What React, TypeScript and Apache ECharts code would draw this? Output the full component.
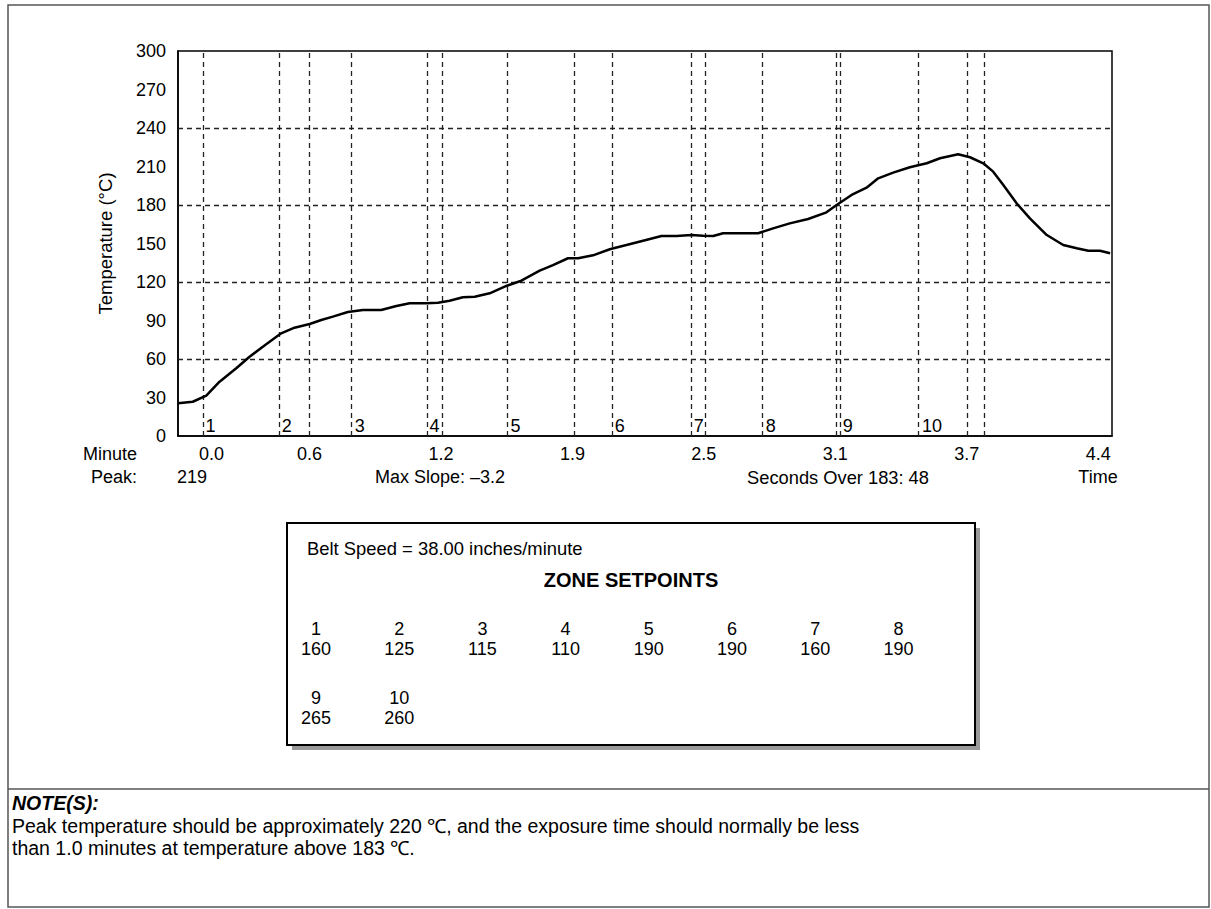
import React, { useEffect, useRef } from 'react';
import * as echarts from 'echarts';

// ---- data ----
const timeMin = [
  0.000, 0.070, 0.134, 0.197, 0.276, 0.339, 0.418, 0.489, 0.552, 0.624,
  0.679, 0.734, 0.805, 0.876, 0.963, 1.035, 1.098, 1.177, 1.232, 1.287,
  1.350, 1.406, 1.477, 1.556, 1.627, 1.714, 1.777, 1.848, 1.896, 1.967,
  2.046, 2.125, 2.204, 2.291, 2.362, 2.433, 2.488, 2.536, 2.583, 2.662,
  2.749, 2.820, 2.899, 2.986, 3.073, 3.121, 3.192, 3.263, 3.318, 3.389,
  3.468, 3.548, 3.611, 3.697, 3.753, 3.816, 3.863, 3.911, 3.974, 4.037,
  4.117, 4.195, 4.259, 4.314, 4.369, 4.417,
];
const tempC = [
  25.5, 26.7, 31.4, 42.3, 52.8, 61.8, 71.5, 80.0, 84.4, 87.3,
  90.4, 93.0, 96.6, 98.2, 98.2, 101.3, 103.4, 103.4, 103.9, 105.4,
  108.1, 108.5, 111.2, 116.9, 121.0, 128.8, 133.2, 138.5, 138.5, 140.8,
  145.5, 148.8, 152.2, 155.8, 155.8, 156.6, 156.1, 155.8, 158.0, 158.0,
  158.0, 161.8, 165.7, 169.1, 174.3, 180.0, 187.8, 193.5, 200.8, 205.2,
  209.4, 212.5, 216.4, 219.5, 217.2, 212.5, 206.0, 195.6, 181.3, 169.6,
  156.6, 148.8, 146.3, 144.4, 144.4, 142.4,
];

const xTickValues = [0, 0.623, 1.246, 1.869, 2.492, 3.115, 3.738, 4.361];
const xTickLabels = ['0.0', '0.6', '1.2', '1.9', '2.5', '3.1', '3.7', '4.4'];
const xMax = 4.426;
const yMin = 0;
const yMax = 300;
const yStep = 30;
const hGridTemps = [60, 120, 180, 240];

const zoneNames = ['1', '2', '3', '4', '5', '6', '7', '8', '9', '10'];
const zoneStartMin = [0.116, 0.477, 0.823, 1.178, 1.562, 2.055, 2.430, 2.771, 3.136, 3.511];
const markerMin = [0.624, 1.249, 1.880, 2.501, 3.122, 3.739, 3.820];
const zoneLabelTemp = 7.8;

const setpointZones = ['1', '2', '3', '4', '5', '6', '7', '8', '9', '10'];
const setpointValues = ['160', '125', '115', '110', '190', '190', '160', '190', '265', '260'];

const beltSpeedText = 'Belt Speed = 38.00 inches/minute';
const setpointTitle = 'ZONE SETPOINTS';
const peakLabel = 'Peak:';
const peakValue = '219';
const maxSlopeText = 'Max Slope: \u20133.2';
const secondsOverText = 'Seconds Over 183: 48';
const minuteLabel = 'Minute';
const timeLabel = 'Time';
const yAxisName = 'Temperature (\u00B0C)';
const noteTitle = 'NOTE(S):';
const noteLines = [
  'Peak temperature should be approximately 220 \u2103, and the exposure time should normally be less',
  'than 1.0 minutes at temperature above 183 \u2103.',
];

const FONT = '"Liberation Sans", Arial, Helvetica, sans-serif';

export default function App() {
  const ref = useRef<HTMLDivElement>(null);

  useEffect(() => {
    if (!ref.current) return;
    const chart = echarts.init(ref.current, null, { renderer: 'svg' });

    const txt = (x: number, y: number, text: string, opts: any = {}) => ({
      type: 'text',
      x,
      y,
      z: 10,
      style: {
        text,
        fill: '#000',
        font: `${opts.italic ? 'italic ' : ''}${opts.weight || 'normal'} ${opts.size || 18}px ${FONT}`,
        textAlign: opts.align || 'left',
        textVerticalAlign: 'middle',
      },
    });

    const colStart = 316;
    const colStep = 83.2;
    const setpointTexts: any[] = [];
    setpointZones.forEach((z, i) => {
      const row = Math.floor(i / 8);
      const col = i % 8;
      const cx = colStart + col * colStep;
      const y1 = row === 0 ? 629 : 698;
      const y2 = row === 0 ? 649 : 718;
      setpointTexts.push(txt(cx, y1, z, { align: 'center', size: 18 }));
      setpointTexts.push(txt(cx, y2, setpointValues[i], { align: 'center', size: 18 }));
    });

    const option: any = {
      animation: false,
      backgroundColor: '#fff',
      grid: {
        left: 178,
        top: 51,
        right: 99,
        bottom: 473,
        show: true,
        borderColor: '#000',
        borderWidth: 1.5,
        backgroundColor: 'transparent',
      },
      xAxis: {
        type: 'value',
        min: 0,
        max: xMax,
        interval: 0.623,
        axisLine: { show: true, lineStyle: { color: '#000', width: 1.5 } },
        axisTick: { show: false },
        splitLine: { show: false },
        axisLabel: {
          margin: 9,
          color: '#000',
          fontSize: 18,
          fontFamily: FONT,
          showMaxLabel: false,
          formatter: (v: number) => {
            const idx = xTickValues.findIndex((t) => Math.abs(t - v) < 0.01);
            if (idx < 0) return '';
            return idx === 0 ? `{first|${xTickLabels[idx]}}` : xTickLabels[idx];
          },
          rich: {
            first: { padding: [0, 0, 0, 67], fontSize: 18, fontFamily: FONT, color: '#000' },
          },
        },
      },
      yAxis: {
        type: 'value',
        min: yMin,
        max: yMax,
        interval: yStep,
        name: yAxisName,
        nameLocation: 'middle',
        nameGap: 63,
        nameRotate: 90,
        nameTextStyle: { color: '#000', fontSize: 18.5, fontFamily: FONT },
        axisLine: { show: true, lineStyle: { color: '#000', width: 1.5 } },
        axisTick: { show: false },
        splitLine: { show: false },
        axisLabel: { margin: 12, color: '#000', fontSize: 18, fontFamily: FONT },
      },
      series: [
        {
          type: 'custom',
          z: 1,
          silent: true,
          data: zoneStartMin.map((x) => [x, zoneLabelTemp]),
          renderItem: (params: any, api: any) => {
            const p = api.coord([api.value(0), api.value(1)]);
            return {
              type: 'text',
              x: p[0] + 3,
              y: p[1],
              style: {
                text: zoneNames[params.dataIndex],
                fill: '#000',
                font: `18px ${FONT}`,
                textAlign: 'left',
                textVerticalAlign: 'middle',
              },
            };
          },
          markLine: {
            silent: true,
            symbol: 'none',
            label: { show: false },
            lineStyle: { color: '#222', width: 1.3, type: [5, 4] },
            data: [
              ...zoneStartMin.map((x) => ({ xAxis: x })),
              ...markerMin.map((x) => ({ xAxis: x })),
              ...hGridTemps.map((y) => ({ yAxis: y })),
            ],
          },
        },
        {
          type: 'line',
          z: 5,
          data: timeMin.map((t, i) => [t, tempC[i]]),
          showSymbol: false,
          smooth: false,
          lineStyle: { color: '#000', width: 2.5 },
        },
      ],
      graphic: [
        {
          type: 'rect',
          z: 0,
          shape: { x: 8, y: 5, width: 1201, height: 902 },
          style: { fill: 'none', stroke: '#555', lineWidth: 1.5 },
        },
        {
          type: 'line',
          z: 0,
          shape: { x1: 8, y1: 789, x2: 1209, y2: 789 },
          style: { stroke: '#555', lineWidth: 1.5 },
        },
        {
          type: 'rect',
          z: 1,
          shape: { x: 292, y: 528, width: 688, height: 222 },
          style: { fill: '#9a9a9a' },
        },
        {
          type: 'rect',
          z: 2,
          shape: { x: 287, y: 523, width: 688, height: 222 },
          style: { fill: '#fff', stroke: '#000', lineWidth: 2 },
        },
        txt(137, 454, minuteLabel, { align: 'right' }),
        txt(137, 477, peakLabel, { align: 'right' }),
        txt(177, 477, peakValue),
        txt(440, 477, maxSlopeText, { align: 'center' }),
        txt(838, 477, secondsOverText, { align: 'center', size: 18.3 }),
        txt(1098, 477, timeLabel, { align: 'center' }),
        txt(307, 548, beltSpeedText, { size: 18.4 }),
        txt(631, 580, setpointTitle, { align: 'center', weight: 'bold', size: 20 }),
        ...setpointTexts,
        txt(12, 803, noteTitle, { weight: 'bold', italic: true, size: 19.5 }),
        txt(12, 826, noteLines[0], { size: 19.5 }),
        txt(12, 848, noteLines[1], { size: 19.5 }),
      ],
    };

    chart.setOption(option);
    return () => chart.dispose();
  }, []);

  return (
    <div
      ref={ref}
      style={{ position: 'fixed', left: 0, top: 0, width: 1211, height: 909, background: '#fff' }}
    />
  );
}
